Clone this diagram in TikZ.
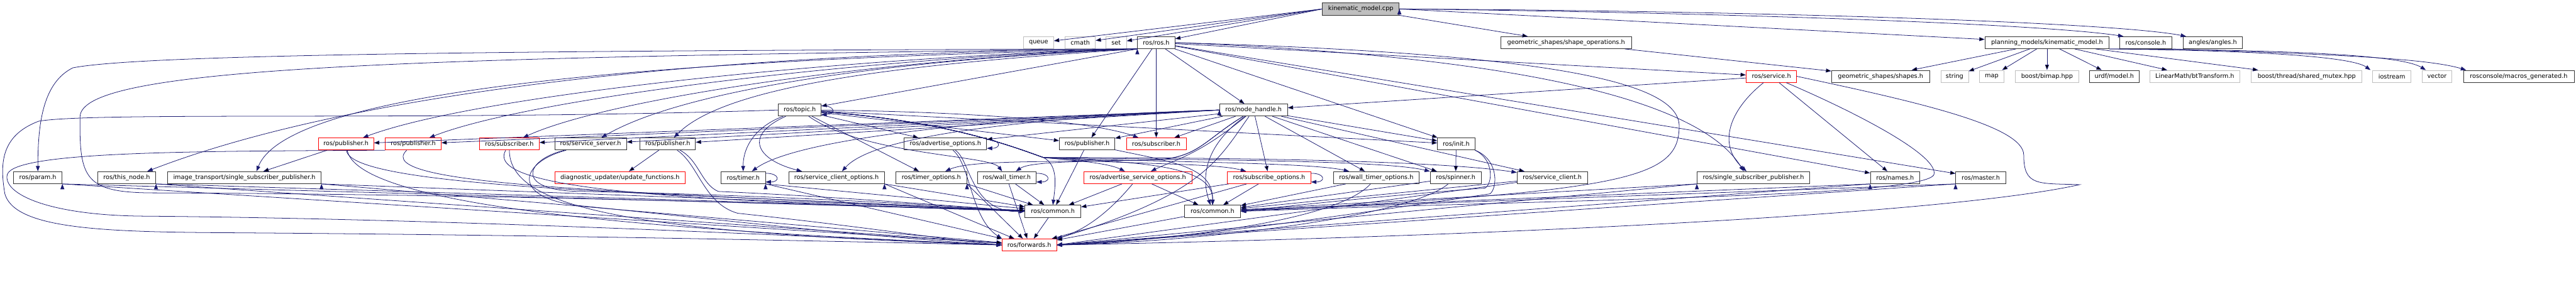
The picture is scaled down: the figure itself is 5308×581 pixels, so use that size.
\documentclass[tikz,border=0pt]{standalone}
\usepackage{fontspec}
\setmainfont{DejaVu Sans}
\usetikzlibrary{arrows.meta}
\definecolor{EdgeBlue}{RGB}{25,25,112}
\definecolor{SysGray}{RGB}{191,191,191}
\definecolor{TruncRed}{RGB}{255,0,0}

\begin{document}
\begin{tikzpicture}[x=1pt,y=-1pt,
  hdr/.style={draw=black!80,fill=white,line width=1pt,minimum height=25pt,
              inner sep=0pt,font=\fontsize{12.6}{15}\selectfont},
  sys/.style={hdr,draw=SysGray},
  trunc/.style={hdr,draw=TruncRed},
  rootfile/.style={hdr,fill=SysGray},
  dep/.style={draw=EdgeBlue,line width=1pt,-{Triangle[length=11pt,width=8pt]}}]
\useasboundingbox (0,0) rectangle (5308,581);

\node[rootfile,minimum width=158pt] (cpp) at (2804,18.5) {kinematic\_model.cpp};

\node[sys,minimum width=62pt] (queue) at (2140,88) {queue};
\node[sys,minimum width=62pt] (cmath) at (2226,88) {cmath};
\node[sys,minimum width=42pt] (set) at (2300,88) {set};
\node[hdr,minimum width=77pt] (ros) at (2382.5,88) {ros/ros.h};
\node[hdr,minimum width=270pt] (shapeop) at (3227,88) {geometric\_shapes/shape\_operations.h};
\node[hdr,minimum width=256pt] (kinmodel) at (4218,88) {planning\_models/kinematic\_model.h};
\node[hdr,minimum width=107pt] (console) at (4421.5,88) {ros/console.h};
\node[hdr,minimum width=121pt] (angles) at (4559.5,88) {angles/angles.h};

\node[trunc,minimum width=104pt] (service) at (3650,157.5) {ros/service.h};
\node[hdr,minimum width=202pt] (shapes) at (3875,157.5) {geometric\_shapes/shapes.h};
\node[sys,minimum width=57pt] (string) at (4027.5,157.5) {string};
\node[sys,minimum width=50pt] (map) at (4104,157.5) {map};
\node[sys,minimum width=130pt] (bimap) at (4218,157.5) {boost/bimap.hpp};
\node[hdr,minimum width=103pt] (urdf) at (4356.5,157.5) {urdf/model.h};
\node[sys,minimum width=185pt] (bttf) at (4522.5,157.5) {LinearMath/btTransform.h};
\node[sys,minimum width=228pt] (mutex) at (4753,157.5) {boost/thread/shared\_mutex.hpp};
\node[sys,minimum width=79pt] (iostream) at (4928.5,157.5) {iostream};
\node[sys,minimum width=61pt] (vector) at (5021.5,157.5) {vector};
\node[hdr,minimum width=228pt] (macros) at (5190,157.5) {rosconsole/macros\_generated.h};

\node[hdr,minimum width=88pt] (topic) at (1648,227) {ros/topic.h};
\node[hdr,minimum width=140pt] (nh) at (2583,227) {ros/node\_handle.h};

\node[trunc,minimum width=114pt] (pub1) at (713,297) {ros/publisher.h};
\node[trunc,minimum width=115pt] (pub2) at (851.5,297) {ros/publisher.h};
\node[trunc,minimum width=123pt] (sub1) at (1049.5,297) {ros/subscriber.h};
\node[hdr,minimum width=148pt] (srvserver) at (1217,297) {ros/service\_server.h};
\node[hdr,minimum width=114pt] (pub3) at (1376,297) {ros/publisher.h};
\node[hdr,minimum width=170pt] (advopts) at (1948,297) {ros/advertise\_options.h};
\node[hdr,minimum width=114pt] (pub4) at (2240,297) {ros/publisher.h};
\node[trunc,minimum width=123pt] (sub2) at (2382.5,297) {ros/subscriber.h};
\node[hdr,minimum width=77pt] (init) at (3000.5,297) {ros/init.h};

\node[hdr,minimum width=100pt] (param) at (78,366.5) {ros/param.h};
\node[hdr,minimum width=120pt] (thisnode) at (261,366.5) {ros/this\_node.h};
\node[hdr,minimum width=317pt] (itssp) at (503.5,366.5) {image\_transport/single\_subscriber\_publisher.h};
\node[trunc,minimum width=269pt] (diag) at (1277.5,366.5) {diagnostic\_updater/update\_functions.h};
\node[hdr,minimum width=91pt] (timer) at (1531.5,366.5) {ros/timer.h};
\node[hdr,minimum width=197pt] (sco) at (1723.5,366.5) {ros/service\_client\_options.h};
\node[hdr,minimum width=146pt] (tmo) at (1919,366.5) {ros/timer\_options.h};
\node[hdr,minimum width=121pt] (wtimer) at (2074.5,366.5) {ros/wall\_timer.h};
\node[trunc,minimum width=223pt] (aso) at (2344.5,366.5) {ros/advertise\_service\_options.h};
\node[trunc,minimum width=172pt] (subo) at (2615,366.5) {ros/subscribe\_options.h};
\node[hdr,minimum width=176pt] (wto) at (2836,366.5) {ros/wall\_timer\_options.h};
\node[hdr,minimum width=105pt] (spinner) at (2999.5,366.5) {ros/spinner.h};
\node[hdr,minimum width=145pt] (sclient) at (3198.5,366.5) {ros/service\_client.h};
\node[hdr,minimum width=232pt] (rssp) at (3613,366.5) {ros/single\_subscriber\_publisher.h};
\node[hdr,minimum width=102pt] (names) at (3905,366.5) {ros/names.h};
\node[hdr,minimum width=103pt] (master) at (4081.5,366.5) {ros/master.h};

\node[hdr,minimum width=115pt] (common1) at (2169.5,436) {ros/common.h};
\node[hdr,minimum width=115pt] (common2) at (2498.5,436) {ros/common.h};
\node[trunc,minimum width=112pt] (fwd) at (2121,505.5) {ros/forwards.h};

\path[dep] (cpp.west) edge (queue) edge (cmath) edge (set) edge (ros)
           (cpp) edge (shapeop) (cpp.east) edge (kinmodel);
\draw[dep] (cpp.east) .. controls (3500,25) and (4200,48) .. ([xshift=8pt]console.north west);
\draw[dep] (cpp.east) .. controls (3600,22) and (4350,45) .. ([xshift=6pt]angles.north west);

\path[dep] (shapeop) edge (shapes);
\path[dep] (kinmodel) edge (shapes) edge (string) edge (map) edge (bimap) edge (urdf)
           edge (bttf) edge (mutex);
\draw[dep] (kinmodel.south east) .. controls (4700,105) and (4850,120) .. ([xshift=-4pt]iostream.north west);
\draw[dep] (kinmodel.south east) .. controls (4750,103) and (4950,115) .. ([xshift=8pt]vector.north west);
\draw[dep] (console.south east) .. controls (4800,112) and (5000,120) .. ([xshift=6pt]macros.north west);

\draw[dep] (ros.south west) .. controls (1200,104) and (300,110) .. (150,140)
           .. controls (90,170) and (78,250) .. (param);
\draw[dep] (ros.south west) .. controls (1400,108) and (700,200) .. ([xshift=-18pt]thisnode.north east);
\draw[dep] (ros.south west) .. controls (1500,120) and (600,170) .. ([xshift=25pt]itssp.north);
\draw[dep] (ros.south west) .. controls (1800,115) and (1000,190) .. (pub1);
\draw[dep] (ros.south west) .. controls (1800,118) and (1100,200) .. (pub2);
\draw[dep] (ros.south west) .. controls (1800,122) and (1250,205) .. (sub1);
\draw[dep] (ros.south west) .. controls (1800,125) and (1400,190) .. (srvserver);
\draw[dep] (ros.south west) .. controls (1900,130) and (1500,170) .. (pub3);
\path[dep] (ros.south west) edge (topic);
\path[dep] (ros) edge (nh) edge (pub4) edge (sub2) edge (init) edge (service) edge (names) edge (master);
\draw[dep] (ros.east) .. controls (3100,115) and (3500,200) .. ([xshift=-20pt]rssp.north);
\draw[dep] (ros.east) .. controls (3200,110) and (3460,170) .. (3460,260)
           .. controls (3460,370) and (3350,395) .. (common2.east);
\draw[dep] (ros.south west) .. controls (800,118) and (170,140) .. (165,240)
           .. controls (163,370) and (175,398) .. (320,398)
           .. controls (1000,400) and (1800,425) .. (common1.west);

\path[dep] (nh.west) edge (pub1) edge (pub2) edge (sub1) edge (srvserver) edge (pub3);
\path[dep] (nh) edge (advopts) edge (pub4) edge (sub2) edge (subo) edge (wto)
           edge (spinner) edge (sclient) edge (init);
\draw[dep] (nh.west) .. controls (2100,240) and (1650,280) .. (timer);
\draw[dep] (nh.west) .. controls (2100,245) and (1800,280) .. (sco);
\draw[dep] (nh) .. controls (2480,290) and (2470,325) .. (2380,330)
           .. controls (2150,335) and (2000,330) .. (tmo);
\draw[dep] (nh) .. controls (2480,290) and (2470,325) .. (2380,330)
           .. controls (2200,333) and (2120,335) .. (wtimer);
\draw[dep] (nh) .. controls (2470,320) and (2420,330) .. (aso);
\draw[dep] (nh) .. controls (2470,310) and (2480,380) .. (common2);
\draw[dep] (nh) .. controls (2510,330) and (2480,400) .. (fwd.north east);

\draw[dep] ([yshift=-4pt]topic.north east) .. controls +(30,0) and +(30,0) .. ([yshift=4pt]topic.south east);
\draw[dep] (topic) .. controls (1560,260) and (1531,300) .. (timer);
\draw[dep] (topic) .. controls (1530,280) and (1560,330) .. ([xshift=28pt]sco.north west);
\path[dep] (topic) edge (advopts) edge (pub4) edge (init) edge (tmo);
\draw[dep] (topic) .. controls (2000,230) and (2250,250) .. (sub2);
\draw[dep] (topic) .. controls (1780,320) and (2040,320) .. (wtimer);
\draw[dep] (topic) .. controls (1950,250) and (2080,300) .. (2150,325)
           .. controls (2200,330) and (2280,335) .. (aso);
\draw[dep] (topic) .. controls (1950,250) and (2080,300) .. (2150,325)
           .. controls (2300,340) and (2500,335) .. (subo);
\draw[dep] (topic) .. controls (1950,250) and (2080,300) .. (2150,325)
           .. controls (2400,335) and (2700,335) .. (wto);
\draw[dep] (topic) .. controls (1950,250) and (2080,300) .. (2150,325)
           .. controls (2450,330) and (2850,330) .. (spinner);
\draw[dep] (topic) .. controls (1950,250) and (2080,300) .. (2150,325)
           .. controls (2500,325) and (2950,330) .. (sclient);
\draw[dep] (topic) .. controls (1950,250) and (2080,300) .. (2150,325)
           .. controls (2180,340) and (2175,380) .. (common1.north);
\draw[dep] (topic) .. controls (1950,250) and (2080,300) .. (2150,325)
           .. controls (2350,335) and (2500,340) .. (common2.north);
\draw[dep] (topic.west) .. controls (900,250) and (200,230) .. (80,250)
           .. controls (0,280) and (0,340) .. (10,400)
           .. controls (30,470) and (200,478) .. (440,480)
           .. controls (1200,485) and (1800,500) .. (fwd.west);

\path[dep] (pub1) edge (itssp) (pub3) edge (diag);
\draw[dep] (pub1) .. controls (720,395) and (1500,400) .. (common1.west);
\draw[dep] (pub1) .. controls (740,440) and (1500,480) .. (fwd.west);
\draw[dep] (pub2) .. controls (760,385) and (1300,395) .. (common1.west);
\draw[dep] (pub2.south west) .. controls (400,312) and (30,312) .. (15,360)
           .. controls (5,400) and (100,445) .. (300,446)
           .. controls (1000,452) and (1800,495) .. (fwd.west);
\draw[dep] (sub1) .. controls (990,400) and (1500,415) .. (common1.west);
\draw[dep] (sub1) .. controls (1050,430) and (1300,480) .. (fwd.west);
\draw[dep] (srvserver) .. controls (1080,330) and (1060,395) .. (1200,395)
           .. controls (1500,400) and (1900,420) .. (common1.west);
\draw[dep] (srvserver) .. controls (1070,335) and (1050,410) .. (1200,425)
           .. controls (1500,455) and (1800,490) .. (fwd.west);
\draw[dep] (pub3) .. controls (1440,330) and (1445,380) .. (1480,395)
           .. controls (1700,405) and (1900,420) .. (common1.west);
\draw[dep] (pub3) .. controls (1440,340) and (1450,420) .. (1520,440)
           .. controls (1800,470) and (1950,495) .. (fwd.west);
\draw[dep] (advopts) .. controls (2000,330) and (2000,440) .. (common1.west);
\draw[dep] (advopts) .. controls (2000,340) and (2000,450) .. (fwd.north west);
\draw[dep] ([yshift=-4pt]advopts.north east) .. controls +(30,0) and +(30,0) .. ([yshift=4pt]advopts.south east);
\draw[dep] (pub4) .. controls (2420,335) and (2500,345) .. (common2.north);
\path[dep] (pub4) edge (common1);

\path[dep] (param.south east) edge (common1) edge (fwd);
\path[dep] (thisnode.south east) edge (common1) edge (fwd);
\path[dep] (itssp.south east) edge (common1) edge (fwd);
\path[dep] (timer.south east) edge (common1) edge (fwd);
\path[dep] (sco.south east) edge (common1) edge (fwd);
\path[dep] (tmo.south east) edge (common1) edge (fwd);
\path[dep] (wtimer) edge (common1) edge (fwd);
\draw[dep] ([yshift=-4pt]timer.north east) .. controls +(30,0) and +(30,0) .. ([yshift=4pt]timer.south east);
\draw[dep] ([yshift=-4pt]wtimer.north east) .. controls +(30,0) and +(30,0) .. ([yshift=4pt]wtimer.south east);
\path[dep] (aso) edge (common1) edge (common2);
\draw[dep] (aso) .. controls (2300,420) and (2250,470) .. (fwd.north east);
\path[dep] (subo) edge (common1) edge (common2) edge (fwd);
\draw[dep] ([yshift=-4pt]subo.north east) .. controls +(30,0) and +(30,0) .. ([yshift=4pt]subo.south east);
\path[dep] (wto) edge (common2) (spinner) edge (common2);
\draw[dep] (wto) .. controls (2750,460) and (2400,495) .. (fwd.east);
\draw[dep] (spinner) .. controls (2900,450) and (2450,500) .. (fwd.east);
\path[dep] (sclient) edge (common2) edge (fwd.east);
\path[dep] (rssp.south west) edge (common2) edge (fwd.east);
\path[dep] (names.south west) edge (common2) edge (fwd.east);
\path[dep] (master.south west) edge (common2) edge (fwd.east);

\path[dep] (init) edge (spinner);
\draw[dep] (init.south east) .. controls (3080,330) and (3075,380) .. (3060,388)
           .. controls (2900,400) and (2700,420) .. (common2.east);
\draw[dep] (init.south east) .. controls (3090,330) and (3085,390) .. (3070,400)
           .. controls (2800,440) and (2400,500) .. (fwd.east);

\path[dep] (service) edge (nh) edge (names);
\draw[dep] (service) .. controls (3560,230) and (3540,300) .. (rssp);
\draw[dep] (service) .. controls (3820,230) and (3995,320) .. (3985,360)
           .. controls (3968,405) and (3300,410) .. (common2.east);
\draw[dep] (service.east) .. controls (3950,210) and (4170,260) .. (4170,320)
           .. controls (4170,385) and (4200,378) .. (4285,381)
           .. controls (4000,445) and (3000,490) .. (fwd.east);

\path[dep] (common1) edge (fwd) (common2) edge (fwd);
\end{tikzpicture}
\end{document}
